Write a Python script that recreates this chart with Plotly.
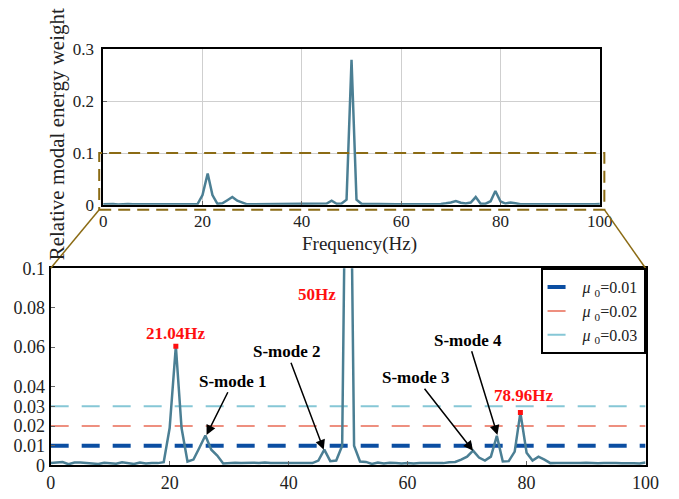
import plotly.graph_objects as go

# ---------------- data ----------------
FREQ = [0, 1, 2, 3, 4, 5, 6, 7, 8, 9,
        10, 11, 12, 13, 14, 15, 16, 17, 18, 19,
        20, 21.04, 22, 23, 24, 25, 26, 27, 28, 29,
        30, 31, 32, 33, 34, 35, 36, 37, 38, 39,
        40, 41, 42, 43, 44, 45, 46, 47, 48, 49,
        50, 51, 52, 53, 54, 55, 56, 57, 58, 59,
        60, 61, 62, 63, 64, 65, 66, 67, 68, 69,
        70, 71, 72, 73, 74, 75, 76, 77, 78, 78.96,
        80, 81, 82, 83, 84, 85, 86, 87, 88, 89,
        90, 91, 92, 93, 94, 95, 96, 97, 98, 99, 100]
WEIGHT = [0.0012, 0.0016, 0.0017, 0.0006, 0.0015, 0.0015, 0.0013, 0.0012, 0.0008, 0.0014,
          0.0012, 0.0009, 0.0016, 0.0012, 0.0008, 0.0015, 0.0010, 0.0013, 0.0012, 0.0017,
          0.0190, 0.0605, 0.0190, 0.0020, 0.0030, 0.0090, 0.0152, 0.0080, 0.0050, 0.0010,
          0.0013, 0.0014, 0.0013, 0.0015, 0.0014, 0.0013, 0.0015, 0.0013, 0.0012, 0.0014,
          0.0012, 0.0013, 0.0014, 0.0012, 0.0012, 0.0025, 0.0080, 0.0022, 0.0025, 0.0100,
          0.2800, 0.0100, 0.0020, 0.0018, 0.0008, 0.0015, 0.0010, 0.0014, 0.0012, 0.0010,
          0.0013, 0.0010, 0.0012, 0.0012, 0.0014, 0.0013, 0.0012, 0.0016, 0.0018, 0.0030,
          0.0045, 0.0075, 0.0040, 0.0025, 0.0045, 0.0150, 0.0020, 0.0022, 0.0070, 0.0268,
          0.0065, 0.0025, 0.0045, 0.0030, 0.0012, 0.0013, 0.0012, 0.0012, 0.0013, 0.0012,
          0.0014, 0.0012, 0.0011, 0.0013, 0.0014, 0.0012, 0.0011, 0.0012, 0.0011, 0.0010, 0.0015]

THRESH = [0.01, 0.02, 0.03]
THRESH_NAMES = ["<i>μ</i> <sub>0</sub>=0.01", "<i>μ</i> <sub>0</sub>=0.02", "<i>μ</i> <sub>0</sub>=0.03"]

PEAK_F = [21.04, 78.96]
PEAK_W = [0.0605, 0.0268]
PEAK_LABELS = ["21.04Hz", "50Hz", "78.96Hz"]
PEAK_LABEL_F = [21.04, 44.8, 79.5]
PEAK_LABEL_W = [0.0668, 0.0866, 0.0354]

MODE_LABELS = ["S-mode 1", "S-mode 2", "S-mode 3", "S-mode 4"]
MODE_TIP_F = [26.2, 45.9, 71.0, 75.1]
MODE_TIP_W = [0.0155, 0.0080, 0.0075, 0.0155]
MODE_TEXT_F = [30.7, 39.7, 61.4, 70.2]
MODE_TEXT_W = [0.0427, 0.0577, 0.0445, 0.0635]

X_TICKS = [0, 20, 40, 60, 80, 100]
TOP_Y_TICKS = [0, 0.1, 0.2, 0.3]
TOP_Y_TEXT = ["0", "0.1", "0.2", "0.3"]
BOT_Y_TICKS = [0, 0.01, 0.02, 0.03, 0.04, 0.06, 0.08, 0.1]
BOT_Y_TEXT = ["0", "0.01", "0.02", "0.03", "0.04", "0.06", "0.08", "0.1"]

ZOOM_X = [-0.8, 100.9]
ZOOM_Y = [-0.0093, 0.1]

# ---------------- styles ----------------
W, H = 679, 499
FONT = "Liberation Serif, 'Times New Roman', Times, 'DejaVu Serif', serif"
LINE_C = "#4b7f94"
BROWN = "#8b6b14"
THRESH_COLORS = ["#0b4ea2", "#ee8f7f", "#86c7d6"]
THRESH_WIDTHS = [4, 2, 2]
THRESH_DASH = ["18px,13px", "18px,13px", "18px,13px"]

TOP_XDOM = [101 / W, 612 / W]
TOP_YDOM = [1 - 203 / H, 1 - 41 / H]
BOT_XDOM = [47 / W, 659 / W]
BOT_YDOM = [1 - 474.5 / H, 1 - 269 / H]
TOP_XR = [0, 100]
TOP_YR = [0, 0.3]

fig = go.Figure()

# top overview
fig.add_trace(go.Scatter(x=FREQ, y=WEIGHT, mode="lines", line=dict(color=LINE_C, width=2.5),
                         xaxis="x", yaxis="y", showlegend=False))

# bottom zoom: thresholds
for v, nm, c, w, d in zip(THRESH, THRESH_NAMES, THRESH_COLORS, THRESH_WIDTHS, THRESH_DASH):
    fig.add_trace(go.Scatter(x=[0, 100], y=[v, v], mode="lines", name=nm,
                             line=dict(color=c, width=w, dash=d),
                             xaxis="x2", yaxis="y2", showlegend=True))

fig.add_trace(go.Scatter(x=FREQ, y=WEIGHT, mode="lines", line=dict(color=LINE_C, width=2.5),
                         xaxis="x2", yaxis="y2", showlegend=False))
fig.add_trace(go.Scatter(x=PEAK_F, y=PEAK_W, mode="markers",
                         marker=dict(color="#ff1010", size=5, symbol="square"),
                         xaxis="x2", yaxis="y2", showlegend=False))


def frac(v, r):
    return (v - r[0]) / (r[1] - r[0])


def to_paper(dom, f):
    return dom[0] + f * (dom[1] - dom[0])


# zoom rectangle on top axes (domain refs -> not clipped)
rx0, rx1 = frac(ZOOM_X[0], TOP_XR), frac(ZOOM_X[1], TOP_XR)
ry0, ry1 = frac(ZOOM_Y[0], TOP_YR), frac(ZOOM_Y[1], TOP_YR)
shapes = [dict(type="rect", xref="x domain", yref="y domain", x0=rx0, x1=rx1, y0=ry0, y1=ry1,
               line=dict(color=BROWN, width=2, dash="12px,7px"), layer="above")]
# connecting lines
shapes.append(dict(type="line", xref="paper", yref="paper",
                   x0=to_paper(TOP_XDOM, rx0), y0=to_paper(TOP_YDOM, ry0),
                   x1=BOT_XDOM[0], y1=BOT_YDOM[1], line=dict(color=BROWN, width=1.5)))
shapes.append(dict(type="line", xref="paper", yref="paper",
                   x0=to_paper(TOP_XDOM, rx1), y0=to_paper(TOP_YDOM, ry0),
                   x1=BOT_XDOM[1], y1=BOT_YDOM[1], line=dict(color=BROWN, width=1.5)))

annotations = []
for t, f, w in zip(PEAK_LABELS, PEAK_LABEL_F, PEAK_LABEL_W):
    annotations.append(dict(xref="x2", yref="y2", x=f, y=w, text="<b>%s</b>" % t, showarrow=False,
                            xanchor="center", yanchor="middle",
                            font=dict(family=FONT, size=17, color="#ff1010")))
for t, tf, tw, xf, xw in zip(MODE_LABELS, MODE_TIP_F, MODE_TIP_W, MODE_TEXT_F, MODE_TEXT_W):
    annotations.append(dict(xref="x2", yref="y2", x=tf, y=tw, axref="x2", ayref="y2", ax=xf, ay=xw,
                            text="<b>%s</b>" % t, showarrow=True, arrowhead=2, arrowsize=1.3,
                            arrowwidth=1.5, arrowcolor="black", standoff=0, startstandoff=0,
                            font=dict(family=FONT, size=17, color="black")))
annotations.append(dict(xref="paper", yref="paper", x=365 / W, y=1 - 243.5 / H, text="Frequency(Hz)",
                        xanchor="center", yanchor="middle",
                        showarrow=False, font=dict(family=FONT, size=19, color="#222")))
annotations.append(dict(xref="paper", yref="paper", x=53 / W, y=1 - 130 / H,
                        text="Relative modal energy weight", textangle=-90,
                        xanchor="center", yanchor="middle",
                        showarrow=False, font=dict(family=FONT, size=21, color="#222")))

axis_common = dict(showline=True, linecolor="black", mirror=True, zeroline=False,
                   ticks="inside", ticklen=4, tickcolor="#666",
                   tickfont=dict(family=FONT, size=17, color="#222"))

fig.update_layout(
    width=W, height=H, autosize=False,
    margin=dict(l=0, r=0, t=0, b=0),
    paper_bgcolor="white", plot_bgcolor="white",
    font=dict(family=FONT),
    xaxis=dict(domain=TOP_XDOM, range=TOP_XR, anchor="y", tickvals=X_TICKS,
               showgrid=True, gridcolor="#cfcfcf", gridwidth=1, linewidth=1.5,
               ticklabelstandoff=0, **axis_common),
    yaxis=dict(domain=TOP_YDOM, range=TOP_YR, anchor="x", tickvals=TOP_Y_TICKS, ticktext=TOP_Y_TEXT,
               showgrid=True, gridcolor="#cfcfcf", gridwidth=1, linewidth=1.5,
               ticklabelstandoff=4, **axis_common),
    xaxis2=dict(domain=BOT_XDOM, range=[0, 100], anchor="y2", tickvals=X_TICKS,
                showgrid=False, linewidth=2, **{**axis_common, "tickfont": dict(family=FONT, size=18, color="#222")}),
    yaxis2=dict(domain=BOT_YDOM, range=[0, 0.1], anchor="x2", tickvals=BOT_Y_TICKS, ticktext=BOT_Y_TEXT,
                showgrid=False, linewidth=2, **{**axis_common, "tickfont": dict(family=FONT, size=18, color="#222")}),
    legend=dict(x=BOT_XDOM[1], y=BOT_YDOM[1], xanchor="right", yanchor="top",
                bgcolor="white", bordercolor="black", borderwidth=2,
                font=dict(family=FONT, size=16, color="#222"), tracegroupgap=0),
    shapes=shapes,
    annotations=annotations,
)

fig.write_html("out.html")
